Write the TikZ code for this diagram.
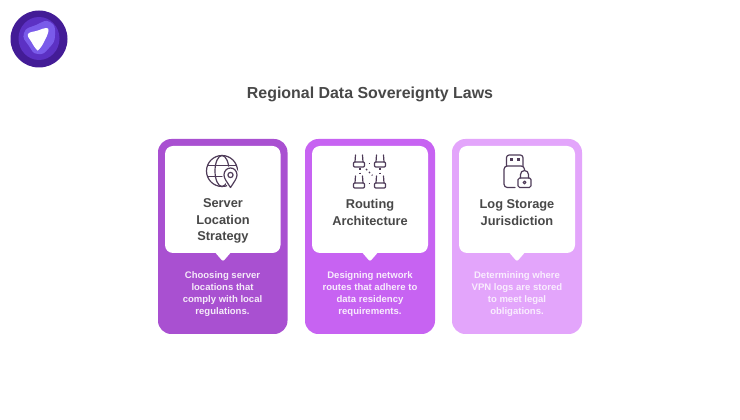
\documentclass[tikz,border=0pt]{standalone}
\usepackage{fontspec}
\setmainfont{Liberation Sans}
\usetikzlibrary{calc}
\definecolor{cardA}{HTML}{A950D1}
\definecolor{cardB}{HTML}{C763F2}
\definecolor{cardC}{HTML}{E3A5FB}
\definecolor{headtxt}{HTML}{484848}
\definecolor{icn}{HTML}{4E3B58}
\definecolor{logoA}{HTML}{431C96}
\definecolor{logoB}{HTML}{5C31C4}
\definecolor{logoC}{HTML}{7A5BEA}
\tikzset{
  x=0.75pt,y=-0.75pt,
  cardbg/.style={rounded corners=10pt},
  whitebox/.style={fill=white,rounded corners=6pt},
  notch/.style={fill=white,rounded corners=1.5pt},
  headlabel/.style={font=\fontsize{9.6}{12}\selectfont\bfseries,text=headtxt,align=center,inner sep=0pt},
  bodylabel/.style={font=\fontsize{7.15}{9}\selectfont\bfseries,text=white,align=center,inner sep=0pt},
  icon/.style={draw=icn,line width=0.9pt,line cap=round,line join=round},
  dots/.style={draw=icn,line width=0.9pt,dash pattern=on 1.2pt off 1.9pt},
}
\newcommand{\routericon}[2]{%
  \begin{scope}[shift={(#1,#2)}]
    \draw[icon] (-3.5,0) -- (-4,7) (3.5,0) -- (4,7);
    \draw[icon,rounded corners=0.8pt] (-5.5,7) rectangle (5.5,12);
  \end{scope}}
\begin{document}
\begin{tikzpicture}
\useasboundingbox (0,0) rectangle (740,420);
\fill[white] (0,0) rectangle (740,420);
% logo
\fill[logoA] (39,39) circle (28.5);
\fill[logoB] circle[radius=0] (39,38.5) ellipse (20.5 and 21.5);
\fill[logoC] plot[smooth cycle,tension=1] coordinates {(24,33)(36,25)(50,22)(55,35)(49,48)(38,54)(29,46)};
\fill[white] plot[smooth cycle,tension=0.7] coordinates {(28,34)(38,30.5)(46,28)(48.5,31)(44,42)(39,49.5)(36.5,49.5)(31.5,42)};
\node[font=\fontsize{11.95}{15}\selectfont\bfseries,text=headtxt,inner sep=0pt] (title) at (370,94) {Regional Data Sovereignty Laws};
% cards
\fill[cardA,cardbg] (158,139) rectangle (287.5,334);
\fill[cardB,cardbg] (305,139) rectangle (435,334);
\fill[cardC,cardbg] (452,139) rectangle (582,334);
\fill[white,whitebox] (165,146) rectangle (280.5,253);
\fill[notch] (213,250) -- (223,261.5) -- (233,250) -- cycle;
\fill[white,whitebox] (312,146) rectangle (428,253);
\fill[notch] (360,250) -- (370,261.5) -- (380,250) -- cycle;
\fill[white,whitebox] (459,146) rectangle (575,253);
\fill[notch] (507,250) -- (517,261.5) -- (527,250) -- cycle;
% globe
\draw[icon] (222,171) circle (15.5);
\draw[icon] (222,171) ellipse (7 and 15.5);
\draw[icon] (208,165.5) -- (236,165.5);
\draw[icon] (207.5,176.5) -- (236,176.5);
\draw[icon,fill=white,preaction={draw=white,line width=2.6pt}] (230.5,187.5) .. controls (227,182) and (224,178.5) .. (224,175) .. controls (224,171) and (226.8,168) .. (230.5,168) .. controls (234.2,168) and (237,171) .. (237,175) .. controls (237,178.5) and (234,182) .. (230.5,187.5) -- cycle;
\draw[icon] (230.5,175) circle (2.6);
% routers
\routericon{359}{155}
\routericon{380}{155}
\routericon{359}{176}
\routericon{380}{176}
\draw[dots] (368.5,163.5) -- (372,163.5);
\draw[dots] (368.5,183.5) -- (372,183.5);
\draw[dots] (360,168.5) -- (360,176);
\draw[dots] (380,168.5) -- (380,176);
\draw[dots] (366,169) -- (372.5,175.5);
% usb + lock
\draw[icon,rounded corners=2pt] (506.5,166) -- (506.5,155) -- (523,155) -- (523,166);
\fill[icn] (509.5,158) rectangle (512.5,161);
\fill[icn] (517,158) rectangle (520,161);
\draw[icon,rounded corners=2.5pt] (515,187.5) -- (504,187.5) -- (504,166) -- (524.5,166) -- (524.5,170);
\draw[icon,rounded corners=1.2pt] (518,178) rectangle (531,187.5);
\draw[icon] (520.5,178) -- (520.5,174.5) arc (180:360:4) -- (528.5,178);
\draw[icon] (524.5,182.5) circle (1.4);
% headings
\node[headlabel] (h1) at (223,221) {Server\\[0.4pt]Location\\[0.4pt]Strategy};
\node[headlabel] (h2) at (370,212.5) {Routing\\[0.4pt]Architecture};
\node[headlabel] (h3) at (517,212.5) {Log Storage\\[0.4pt]Jurisdiction};
% body
\node[bodylabel,text=white!88!cardA] (b1) at (222.5,294) {Choosing server\\locations that\\comply with local\\regulations.};
\node[bodylabel,text=white!88!cardB] (b2) at (370,294) {Designing network\\routes that adhere to\\data residency\\requirements.};
\node[bodylabel,text=white!80!cardC] (b3) at (517,294) {Determining where\\VPN logs are stored\\to meet legal\\obligations.};
\end{tikzpicture}
\end{document}
